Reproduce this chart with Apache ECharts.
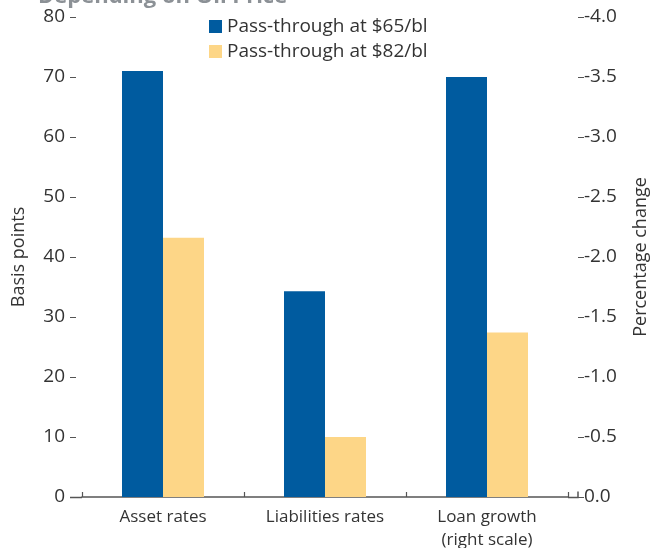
<!DOCTYPE html>
<html>
<head>
<meta charset="utf-8">
<script src="https://cdn.jsdelivr.net/npm/echarts@6/dist/echarts.min.js"></script>
<style>
  html, body { margin: 0; padding: 0; background: #fff; }
  #chart { width: 652px; height: 548px; }
</style>
</head>
<body>
<div id="chart"></div>
<script>
// Categories and values
const categories = ['Asset rates', 'Liabilities rates', 'Loan growth\n(right scale)'];
const seriesNames = ['Pass-through at $65/bl', 'Pass-through at $82/bl'];
// Rates, in basis points (left scale)
const rates65 = [71, 34.3, null];
const rates82 = [43.2, 10, null];
// Loan growth, percentage change (right scale)
const loan65 = [null, null, -3.5];
const loan82 = [null, null, -1.37];
const leftTicks = { min: 0, max: 80, interval: 10 };
const rightTicks = { min: -4, max: 0, interval: 0.5 };

const BLUE = '#005b9f';
const YELLOW = '#fdd687';
const FONT = 'Open Sans';
const TEXT = '#333333';
const AXIS = '#555';
const LEFT_OFFSET = 6;
const RIGHT_OFFSET = 10;

const chart = echarts.init(document.getElementById('chart'), null, { renderer: 'canvas' });

const catAxis = {
  type: 'category',
  data: categories,
  axisLine: { show: true, lineStyle: { color: AXIS, width: 1.5 } },
  axisTick: { show: true, inside: true, length: 5, lineStyle: { color: AXIS, width: 1.2 } },
  axisLabel: { interval: 0, color: TEXT, fontFamily: FONT, fontSize: 17, margin: 9, lineHeight: 23 }
};

chart.setOption({
  animation: false,
  title: {
    text: 'Depending on Oil Price',
    left: 33, top: -19,
    textStyle: { color: '#8c9196', fontFamily: FONT, fontWeight: 'bold', fontSize: 22 }
  },
  legend: {
    data: seriesNames,
    orient: 'vertical',
    left: 204, top: 12,
    itemWidth: 13, itemHeight: 13, itemGap: 6,
    icon: 'rect',
    textStyle: { color: TEXT, fontFamily: FONT, fontSize: 19 }
  },
  grid: { left: 82, right: 84, top: 17, bottom: 51, containLabel: false, outerBoundsMode: 'none' },
  xAxis: [
    catAxis,
    Object.assign({}, catAxis, { show: false })
  ],
  yAxis: [
    {
      type: 'value', position: 'left', offset: LEFT_OFFSET,
      min: leftTicks.min, max: leftTicks.max, interval: leftTicks.interval,
      name: 'Basis points', nameLocation: 'middle', nameGap: 48, nameRotate: 90,
      nameTextStyle: { color: TEXT, fontFamily: FONT, fontSize: 18 },
      axisLine: { show: false },
      axisTick: { show: true, length: 6, lineStyle: { color: AXIS } },
      splitLine: { show: false },
      axisLabel: { color: TEXT, fontFamily: FONT, fontSize: 19, margin: 11 }
    },
    {
      type: 'value', position: 'right', offset: RIGHT_OFFSET, inverse: true,
      min: rightTicks.min, max: rightTicks.max, interval: rightTicks.interval,
      name: 'Percentage change', nameLocation: 'middle', nameGap: 54, nameRotate: 90,
      nameTextStyle: { color: TEXT, fontFamily: FONT, fontSize: 18 },
      axisLine: { show: false },
      axisTick: { show: true, length: 6, lineStyle: { color: AXIS } },
      splitLine: { show: false },
      axisLabel: {
        color: TEXT, fontFamily: FONT, fontSize: 19, margin: 6,
        formatter: v => v.toFixed(1)
      }
    }
  ],
  series: [
    { name: seriesNames[0], type: 'bar', xAxisIndex: 0, yAxisIndex: 0, data: rates65,
      barWidth: 41, barGap: '0%', itemStyle: { color: BLUE } },
    { name: seriesNames[1], type: 'bar', xAxisIndex: 0, yAxisIndex: 0, data: rates82,
      barWidth: 41, barGap: '0%', itemStyle: { color: YELLOW } },
    { name: seriesNames[0], type: 'bar', xAxisIndex: 1, yAxisIndex: 1, data: loan65,
      barWidth: 41, barGap: '0%', itemStyle: { color: BLUE } },
    { name: seriesNames[1], type: 'bar', xAxisIndex: 1, yAxisIndex: 1, data: loan82,
      barWidth: 41, barGap: '0%', itemStyle: { color: YELLOW } }
  ]
});

// Carry the baseline out to both offset value axes, with a closing tick on the right
const rect = chart.getModel().getComponent('grid').coordinateSystem.getRect();
const baseY = Math.round(rect.y + rect.height) + 0.5;
const xL = rect.x - LEFT_OFFSET;
const xR = rect.x + rect.width + RIGHT_OFFSET;
chart.setOption({
  graphic: [
    { type: 'polyline', silent: true,
      shape: { points: [[xL - 6, baseY], [rect.x, baseY]] },
      style: { stroke: AXIS, lineWidth: 1.5, fill: null } },
    { type: 'polyline', silent: true,
      shape: { points: [[rect.x + rect.width, baseY], [xR, baseY], [xR, baseY - 6]] },
      style: { stroke: AXIS, lineWidth: 1.5, fill: null } }
  ]
});
</script>
</body>
</html>
